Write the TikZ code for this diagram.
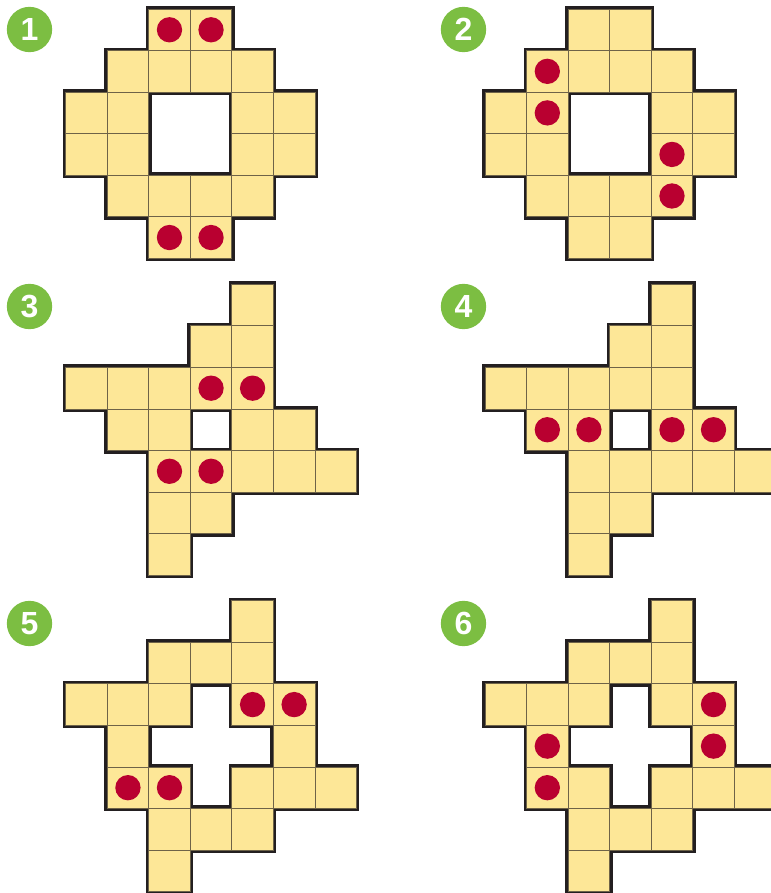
\documentclass[tikz,border=0pt]{standalone}
\usepackage{fontspec}
\setsansfont{Liberation Sans}
\usepackage{xcolor}
\usepackage{tikz}
\usetikzlibrary{positioning}

\definecolor{tilefill}{HTML}{FDE797}
\definecolor{badgegreen}{HTML}{7CBE42}
\definecolor{dotred}{HTML}{B90030}
\definecolor{edgeblack}{HTML}{231F20}
\definecolor{gridbrown}{HTML}{6E6348}

\tikzset{
  badge/.style={circle, fill=badgegreen, minimum size=34pt, inner sep=0pt, text=white,
    font=\fontsize{24}{24}\selectfont\sffamily\bfseries},
  counter/.style={circle, fill=dotred, minimum size=19pt, inner sep=0pt},
  outline/.style={draw=edgeblack, line width=4.5pt},
  gridline/.style={draw=gridbrown, line width=0.6pt},
}

% cells as col/row
\def\ringcells{2/0,3/0,1/1,2/1,3/1,4/1,0/2,1/2,4/2,5/2,0/3,1/3,4/3,5/3,1/4,2/4,3/4,4/4,2/5,3/5}
\def\starcells{4/0,3/1,4/1,0/2,1/2,2/2,3/2,4/2,1/3,2/3,4/3,5/3,2/4,3/4,4/4,5/4,6/4,2/5,3/5,2/6}
\def\loopcells{4/0,2/1,3/1,4/1,0/2,1/2,2/2,4/2,5/2,1/3,5/3,1/4,2/4,4/4,5/4,6/4,2/5,3/5,4/5,2/6}

% #1,#2 = top left corner, #3 = cell list
\newcommand{\tiles}[3]{%
  \foreach \c/\r in #3 \path[outline] (#1+\c*41.55, #2+\r*41.55) rectangle ++(41.55,41.55);
  \foreach \c/\r in #3 \fill[tilefill] (#1+\c*41.55, #2+\r*41.55) rectangle ++(41.55,41.55);
  \foreach \c/\r in #3 \path[gridline] (#1+\c*41.55, #2+\r*41.55) rectangle ++(41.55,41.55);
}

\begin{document}
\begin{tikzpicture}[x=0.75pt, y=-0.75pt]
  \useasboundingbox (0,0) rectangle (771,893);
  \clip (0,0) rectangle (771,893);

  % Panel 1
  \tiles{65.6}{9}{\ringcells}
  \foreach \c/\r [count=\k] in {2/0, 3/0, 2/5, 3/5}
    \node[counter] (dotA\k) at (65.6+\c*41.55+20.78, 9+\r*41.55+20.78) {};
  \node[badge] (numA) at (29.5,29.5) {1};

  % Panel 2
  \tiles{485}{9}{\ringcells}
  \foreach \c/\r [count=\k] in {1/1, 1/2, 4/3, 4/4}
    \node[counter] (dotB\k) at (485+\c*41.55+20.78, 9+\r*41.55+20.78) {};
  \node[badge] (numB) at (463.5,29.5) {2};

  % Panel 3
  \tiles{65.6}{284.3}{\starcells}
  \foreach \c/\r [count=\k] in {3/2, 4/2, 2/4, 3/4}
    \node[counter] (dotC\k) at (65.6+\c*41.55+20.78, 284.3+\r*41.55+20.78) {};
  \node[badge] (numC) at (29.5,306.5) {3};

  % Panel 4
  \tiles{485}{284.3}{\starcells}
  \foreach \c/\r [count=\k] in {1/3, 2/3, 4/3, 5/3}
    \node[counter] (dotD\k) at (485+\c*41.55+20.78, 284.3+\r*41.55+20.78) {};
  \node[badge] (numD) at (463.5,306.5) {4};

  % Panel 5
  \tiles{65.6}{600.7}{\loopcells}
  \foreach \c/\r [count=\k] in {4/2, 5/2, 1/4, 2/4}
    \node[counter] (dotE\k) at (65.6+\c*41.55+20.78, 600.7+\r*41.55+20.78) {};
  \node[badge] (numE) at (29.5,623.5) {5};

  % Panel 6
  \tiles{485}{600.7}{\loopcells}
  \foreach \c/\r [count=\k] in {5/2, 5/3, 1/3, 1/4}
    \node[counter] (dotF\k) at (485+\c*41.55+20.78, 600.7+\r*41.55+20.78) {};
  \node[badge] (numF) at (463.5,623.5) {6};
\end{tikzpicture}
\end{document}
